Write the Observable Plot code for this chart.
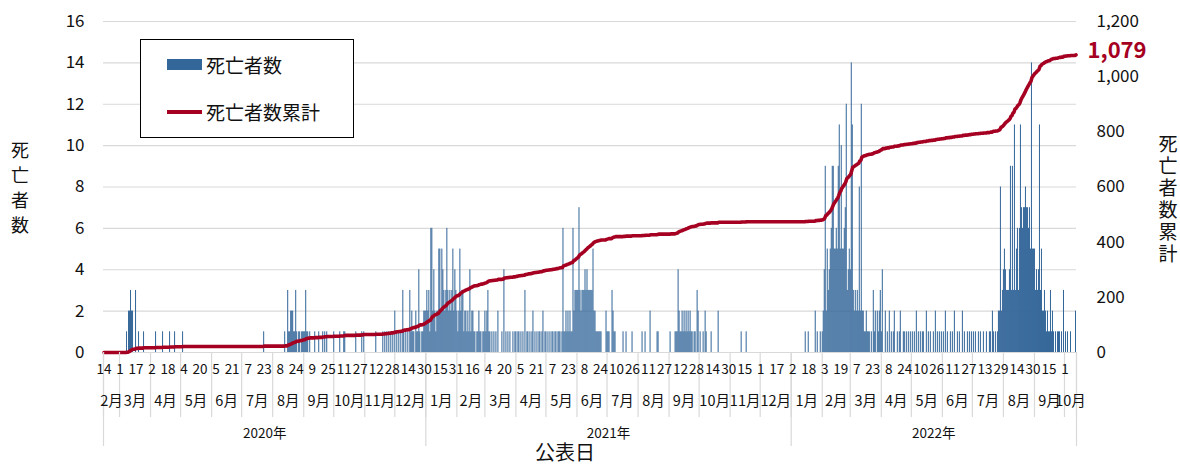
<!DOCTYPE html>
<html><head><meta charset="utf-8">
<script src="https://cdn.jsdelivr.net/npm/d3@7"></script>
<script src="https://cdn.jsdelivr.net/npm/@observablehq/plot@0.6"></script>
<style>
body{margin:0;background:#fff;}
#wrap{position:relative;width:1180px;height:466px;font-family:"Noto Sans CJK JP",sans-serif;color:#111;}
#chart{position:absolute;left:0;top:0;}
.legend{position:absolute;left:140px;top:39px;width:212px;height:97px;border:1px solid #000;background:#fff;}
.legend .sw{position:absolute;left:26px;width:35px;}
.legend .tx{position:absolute;left:65px;font-size:19px;line-height:24px;white-space:nowrap;}
.vt{position:absolute;text-align:center;white-space:pre;}
.xt{position:absolute;font-size:20px;line-height:22px;white-space:nowrap;}
</style></head><body>
<div id="wrap"><div id="chart"></div>
<div class="legend">
  <div class="sw" style="top:19px;height:11px;background:#336699"></div><div class="tx" style="top:13px">死亡者数</div>
  <div class="sw" style="top:70px;height:4px;background:#a50021"></div><div class="tx" style="top:60px">死亡者数累計</div>
</div>
<div class="vt" id="ylab" style="left:0;top:137px;width:40px;font-size:18px;line-height:25px"></div>
<div class="vt" id="y2lab" style="left:1146px;top:132px;width:44px;font-size:19px;line-height:22px"></div>
<div class="xt" id="xlab" style="left:535px;top:441px"></div>
</div>
<script>
// Daily deaths, first day 2020-02-14 (one row per month)
const deaths2020 = [
  0,0,0,0,0,0,0,0,0,0,0,0,0,0,0,0,                                   // Feb 14-29
  0,0,0,0,0,0,0,1,0,2,2,3,2,2,0,0,3,0,0,1,0,0,0,0,1,0,0,0,0,0,0,     // Mar
  0,0,0,0,0,1,0,0,0,0,0,0,1,0,0,0,0,0,0,1,0,0,0,0,1,0,0,0,0,0,       // Apr
  0,0,1,0,0,0,0,0,0,0,0,0,0,0,0,0,0,0,0,0,0,0,0,0,0,0,0,0,0,0,0,     // May
  0,0,0,0,0,0,0,0,0,0,0,0,0,0,0,0,0,0,0,0,0,0,0,0,0,0,0,0,0,0,       // Jun
  0,0,0,0,0,0,0,0,0,0,0,0,0,0,0,0,0,0,0,0,0,0,1,0,0,0,0,0,0,0,0,     // Jul
  0,0,0,0,0,0,0,0,0,0,0,0,1,0,0,3,1,1,2,2,2,1,1,3,1,0,1,1,0,1,1,     // Aug
  1,1,3,1,1,0,1,0,0,0,0,1,0,0,0,1,0,0,0,1,0,1,0,1,0,0,0,0,0,0,       // Sep
  1,0,0,0,0,0,1,0,0,0,1,1,0,0,0,0,0,0,0,0,0,0,1,0,0,0,0,0,1,0,1,     // Oct
  0,0,0,0,0,0,0,0,0,0,0,1,0,0,0,0,0,0,1,0,1,0,1,0,1,0,1,0,1,0,       // Nov
  2,0,1,0,1,0,1,0,3,1,0,1,0,1,0,3,1,2,1,1,0,2,1,1,4,1,0,1,1,2,2      // Dec
];
const deaths2021 = [
  2,3,2,3,1,6,6,2,4,2,1,2,2,5,5,2,5,4,3,2,3,6,3,2,3,2,3,5,2,4,3,     // Jan
  2,1,2,5,2,3,3,1,2,2,1,2,1,4,1,2,2,1,1,0,1,1,2,1,1,0,1,1,           // Feb
  2,1,2,3,1,1,0,1,0,1,0,1,0,2,0,0,0,1,0,4,0,1,0,1,0,1,0,0,1,0,1,     // Mar
  1,0,1,1,0,1,0,1,0,3,0,1,1,0,1,0,1,2,0,1,0,1,0,1,1,0,1,2,0,1,       // Apr
  1,0,1,0,1,0,1,1,0,1,1,0,1,1,1,0,1,6,1,1,2,1,2,1,2,1,1,6,2,3,3,     // May
  3,3,7,3,2,3,3,3,4,3,4,3,3,3,3,3,5,2,2,1,1,1,1,1,1,0,0,0,0,2,       // Jun
  1,1,1,0,0,3,2,1,1,0,0,0,0,0,0,0,1,0,0,1,0,0,0,0,0,1,0,0,0,0,0,     // Jul
  0,0,0,0,1,0,0,1,0,0,0,0,2,0,0,0,0,0,0,1,1,0,0,0,0,0,0,0,0,0,0,     // Aug
  0,1,0,0,0,0,1,1,1,4,2,1,1,2,1,2,1,2,1,2,1,2,1,1,0,1,1,0,3,2,       // Sep
  0,1,0,0,1,0,2,1,0,0,0,0,1,0,0,0,0,0,0,2,0,0,0,0,0,0,0,0,0,0,0,     // Oct
  0,0,0,0,0,0,0,0,0,0,0,1,0,0,0,0,1,0,0,0,0,0,0,0,0,0,0,0,0,0,       // Nov
  0,0,0,0,0,0,0,0,0,0,0,0,0,0,0,0,0,0,0,0,0,0,0,0,0,0,0,0,0,0,0      // Dec
];
const deaths2022 = [
  0,0,0,0,0,0,0,0,0,0,0,0,0,0,1,0,0,1,0,0,0,0,0,0,2,0,1,0,0,1,0,     // Jan
  1,2,4,9,2,5,3,4,5,6,9,9,5,5,6,5,9,11,5,10,5,5,6,7,12,3,4,5,        // Feb
  4,14,11,3,2,3,2,3,2,8,2,12,2,2,1,1,2,1,1,1,0,1,0,3,1,2,0,2,1,2,3,  // Mar
  1,4,0,0,2,0,1,0,2,0,1,0,1,2,0,0,1,0,1,2,0,0,1,1,0,1,0,1,0,1,       // Apr
  0,1,0,1,0,2,0,1,0,1,0,1,1,0,0,2,0,1,0,1,0,0,1,0,2,0,1,0,1,0,1,     // May
  0,1,0,2,0,1,0,0,1,0,1,0,2,0,0,1,0,1,0,0,2,0,1,0,0,1,0,1,0,1,       // Jun
  0,1,0,1,0,0,1,0,1,0,0,1,0,0,1,0,0,1,1,0,2,1,0,1,0,1,2,2,8,2,3,     // Jul
  4,5,4,3,3,3,4,9,3,9,3,11,3,5,6,3,6,11,7,6,7,7,8,7,7,6,7,5,14,5,5,  // Aug
  5,3,4,3,4,11,3,5,2,2,3,2,1,2,1,1,3,1,2,1,0,1,0,1,1,1,0,1,0,3,      // Sep
  0,1,0,1,0,0,1,0,0,0,0,2                                            // Oct 1-12
];
const startUTC = Date.UTC(2020, 1, 14);
const leftTicks = [0, 2, 4, 6, 8, 10, 12, 14, 16];
const rightTicks = [0, 200, 400, 600, 800, 1000, 1200];
const ratio = 1200 / 16;
const yTitle = "死亡者数", y2Title = "死亡者数累計", xTitle = "公表日";

const deaths = [...deaths2020, ...deaths2021, ...deaths2022];
const N = deaths.length;
let acc = 0;
const days = deaths.map((v, i) => { acc += v; return {i, v, cum: acc, date: new Date(startUTC + i * 864e5)}; });
const last = days[N - 1];

// month and year spans
const months = [], years = [];
days.forEach(d => {
  const m = d.date.getUTCMonth(), y = d.date.getUTCFullYear();
  const lm = months[months.length - 1];
  if (!lm || lm.m !== m || lm.y !== y) months.push({m, y, s: d.i, e: d.i + 1}); else lm.e = d.i + 1;
  const ly = years[years.length - 1];
  if (!ly || ly.y !== y) years.push({y, s: d.i, e: d.i + 1}); else ly.e = d.i + 1;
});
const monthBounds = [...new Set([...months.map(m => m.s), N])];
const yearBounds = [...new Set([...years.map(y => y.s), N])];
const dayTicks = days.filter(d => d.i % 16 === 0);

const mt = 21, mb = 114, H = 466;
const unit = (H - mt - mb) / 16; // px per y unit
const font = "'Noto Sans CJK JP', sans-serif";

const chart = Plot.plot({
  width: 1180, height: H,
  marginLeft: 103, marginRight: 104, marginTop: mt, marginBottom: mb,
  x: {domain: [0, N], axis: null},
  y: {domain: [0, 16]},
  style: {fontFamily: font, color: "#111", background: "#fff", overflow: "visible"},
  marks: [
    Plot.gridY(leftTicks, {stroke: "#d9d9d9", strokeOpacity: 1, strokeWidth: 1.2}),
    Plot.rectY(days.filter(d => d.v > 0), {x1: d => d.i, x2: d => d.i + 1, y: "v", fill: "#336699"}),
    Plot.line(days, {x: d => d.i + 0.5, y: d => d.cum / ratio, stroke: "#a50021", strokeWidth: 3.6, strokeLinejoin: "round"}),
    Plot.text([last], {x: d => d.i + 1, y: d => d.cum / ratio, text: d => d3.format(",")(d.cum), textAnchor: "start", dx: 11, dy: -4, fill: "#a50021", fontSize: 22, fontWeight: "bold"}),
    Plot.axisY(leftTicks, {anchor: "left", tickSize: 0, tickPadding: 19, label: null, fontSize: 17}),
    Plot.axisY(rightTicks.map(v => v / ratio), {anchor: "right", tickSize: 0, tickPadding: 20, label: null, fontSize: 17, tickFormat: d => d3.format(",")(Math.round(d * ratio))}),
    Plot.ruleX(monthBounds, {x: d => d, y1: 0, y2: -65 / unit, stroke: "#d9d9d9", strokeWidth: 1.2}),
    Plot.ruleX(yearBounds, {x: d => d, y1: 0, y2: -94 / unit, stroke: "#d9d9d9", strokeWidth: 1.2}),
    Plot.text(dayTicks, {x: d => d.i + 0.5, frameAnchor: "bottom", dy: 21, text: d => String(d.date.getUTCDate()), fontSize: 13.5}),
    Plot.text(months, {x: d => (d.s + d.e) / 2, frameAnchor: "bottom", dy: 53, text: d => (d.m + 1) + "月", fontSize: 14.5}),
    Plot.text(years, {x: d => (d.s + d.e) / 2, frameAnchor: "bottom", dy: 85, text: d => d.y + "年", fontSize: 13.5})
  ]
});
document.getElementById("chart").appendChild(chart);
document.getElementById("ylab").textContent = [...yTitle].join("\n");
document.getElementById("y2lab").textContent = [...y2Title].join("\n");
document.getElementById("xlab").textContent = xTitle;
</script>
</body></html>
